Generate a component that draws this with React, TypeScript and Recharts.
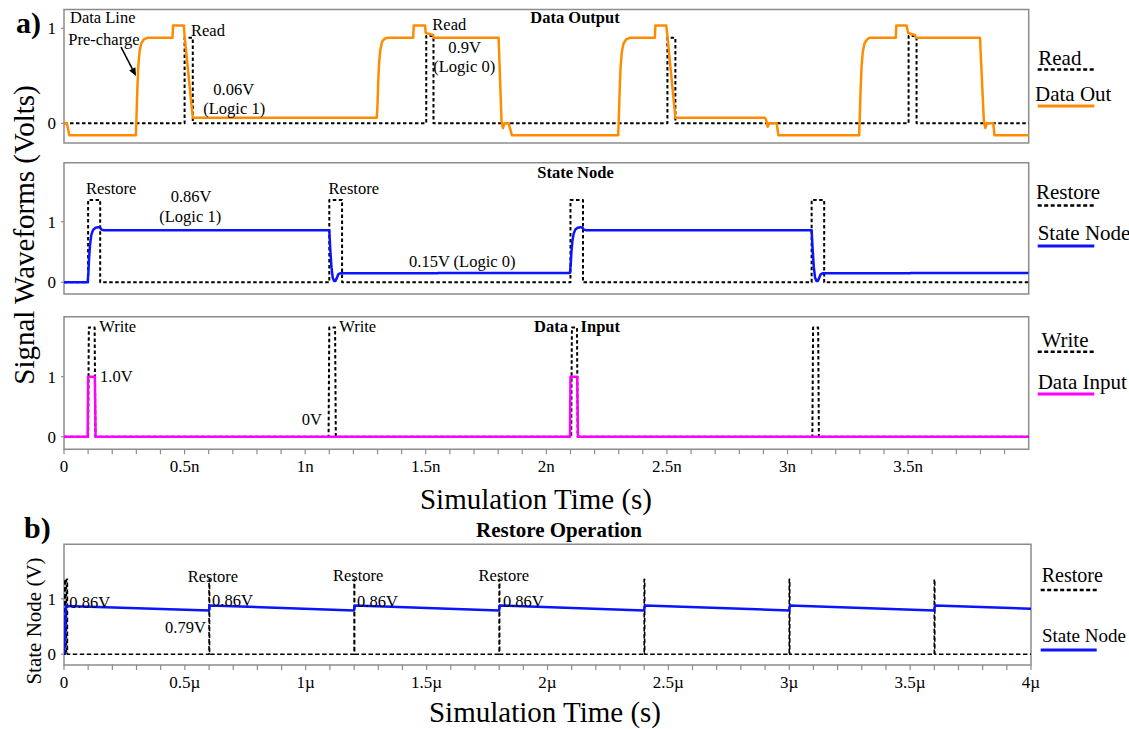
import React from "react";
import { LineChart, Line, XAxis, YAxis, ReferenceArea } from "recharts";

const FONT = "'Liberation Serif', 'Times New Roman', Times, serif";

// ---------- a) Data Output panel (time in ns) ----------
const readT = [0, 0.5, 0.5, 0.534, 0.534, 1.502, 1.502, 1.532, 1.532, 2.502, 2.502, 2.535, 2.535, 3.502, 3.502, 3.535, 3.535, 4.0];
const readV = [0, 0, 0.9, 0.9, 0, 0, 0.92, 0.92, 0, 0, 0.9, 0.9, 0, 0, 0.92, 0.92, 0, 0];

const dataOutT = [
  0, 0.012, 0.022, 0.298, 0.301, 0.304, 0.308, 0.313, 0.32, 0.33, 0.345, 0.45, 0.452, 0.497, 0.5, 0.534,
  1.297, 1.3, 1.303, 1.307, 1.312, 1.319, 1.329, 1.34, 1.448, 1.45, 1.497, 1.5, 1.53, 1.534, 1.802, 1.814, 1.82, 1.826, 1.844, 1.857,
  2.298, 2.301, 2.304, 2.308, 2.313, 2.32, 2.33, 2.345, 2.45, 2.452, 2.497, 2.502, 2.535, 2.906, 2.912, 2.918, 2.924, 2.955, 2.962,
  3.297, 3.3, 3.303, 3.307, 3.312, 3.319, 3.329, 3.34, 3.449, 3.451, 3.494, 3.5, 3.528, 3.532, 3.798, 3.814, 3.82, 3.826, 3.853, 3.858, 4.0,
];
const dataOutV = [
  0, 0, -0.125, -0.125, 0.1, 0.35, 0.6, 0.75, 0.84, 0.88, 0.9, 0.9, 1.03, 1.03, 0.92, 0.06,
  0.06, 0.2, 0.45, 0.65, 0.78, 0.86, 0.89, 0.9, 0.9, 1.03, 1.03, 0.95, 0.93, 0.9, 0.9, 0.03, -0.05, 0, 0, -0.125,
  -0.125, 0.1, 0.35, 0.6, 0.75, 0.84, 0.88, 0.9, 0.9, 1.03, 1.03, 0.92, 0.06, 0.06, 0.03, -0.035, 0, 0, -0.125,
  -0.125, 0.1, 0.35, 0.6, 0.75, 0.84, 0.88, 0.9, 0.9, 1.03, 1.03, 0.95, 0.93, 0.9, 0.9, 0.03, -0.05, 0, 0, -0.125, -0.125,
];

// ---------- State Node panel (ns) ----------
const restoreT = [0, 0.1, 0.1, 0.15, 0.15, 1.1, 1.1, 1.153, 1.153, 2.1, 2.1, 2.152, 2.152, 3.1, 3.1, 3.152, 3.152, 4.0];
const restoreV = [0, 0, 1.36, 1.36, 0, 0, 1.36, 1.36, 0, 0, 1.36, 1.36, 0, 0, 1.36, 1.36, 0, 0];

const stateT = [
  0, 0.098, 0.101, 0.104, 0.108, 0.113, 0.12, 0.13, 0.142, 0.15, 0.155, 0.165,
  1.1, 1.104, 1.109, 1.114, 1.12, 1.125, 1.13, 1.137, 1.147, 1.55, 1.552,
  2.098, 2.101, 2.104, 2.108, 2.113, 2.12, 2.13, 2.142, 2.15, 2.155, 2.165,
  3.1, 3.104, 3.109, 3.114, 3.12, 3.125, 3.13, 3.137, 3.147, 3.51, 3.512, 4.0,
];
const stateV = [
  0, 0, 0.15, 0.4, 0.62, 0.78, 0.86, 0.9, 0.91, 0.9, 0.87, 0.86,
  0.86, 0.55, 0.25, 0.08, 0.02, 0.02, 0.06, 0.13, 0.15, 0.15, 0.155,
  0.155, 0.3, 0.5, 0.68, 0.8, 0.87, 0.9, 0.91, 0.9, 0.87, 0.86,
  0.86, 0.55, 0.25, 0.08, 0.02, 0.02, 0.06, 0.13, 0.15, 0.15, 0.155, 0.155,
];

// ---------- Data Input panel (ns) ----------
const writeT = [0, 0.1, 0.103, 0.127, 0.13, 1.097, 1.1, 1.124, 1.127, 2.103, 2.106, 2.127, 2.13, 3.103, 3.106, 3.127, 3.13, 4.0];
const writeV = [0, 0, 1.82, 1.82, 0, 0, 1.82, 1.82, 0, 0, 1.82, 1.82, 0, 0, 1.82, 1.82, 0, 0];

const dataInT = [0, 0.098, 0.1, 0.128, 0.131, 2.098, 2.1, 2.128, 2.131, 4.0];
const dataInV = [0, 0, 1.0, 1.0, 0, 0, 1.0, 1.0, 0, 0];

// ---------- b) Restore Operation panel (time in µs) ----------
const rOpRestoreT = [0, 0.002, 0.002, 0.006, 0.006, 0.01, 0.01, 0.014, 0.014, 0.6, 0.6, 0.602, 0.602, 1.2, 1.2, 1.202, 1.202, 1.8, 1.8, 1.802, 1.802, 2.4, 2.4, 2.402, 2.402, 3.0, 3.0, 3.002, 3.002, 3.6, 3.6, 3.602, 3.602, 4.0];
const rOpRestoreV = [0, 0, 1.35, 1.35, 0, 0, 1.35, 1.35, 0, 0, 1.35, 1.35, 0, 0, 1.35, 1.35, 0, 0, 1.35, 1.35, 0, 0, 1.35, 1.35, 0, 0, 1.35, 1.35, 0, 0, 1.35, 1.35, 0, 0];

const rOpStateT = [0, 0.008, 0.6, 0.603, 1.2, 1.203, 1.8, 1.803, 2.4, 2.403, 3.0, 3.003, 3.6, 3.603, 4.0];
const rOpStateV = [0, 0.87, 0.79, 0.88, 0.79, 0.88, 0.79, 0.88, 0.79, 0.88, 0.79, 0.88, 0.79, 0.88, 0.82];

// ---------- ticks ----------
const nsTicks = [0, 0.1, 0.2, 0.3, 0.4, 0.5, 0.6, 0.7, 0.8, 0.9, 1, 1.1, 1.2, 1.3, 1.4, 1.5, 1.6, 1.7, 1.8, 1.9, 2, 2.1, 2.2, 2.3, 2.4, 2.5, 2.6, 2.7, 2.8, 2.9, 3, 3.1, 3.2, 3.3, 3.4, 3.5, 3.6, 3.7, 3.8, 3.9];
const nsMajor = [0, 0.5, 1, 1.5, 2, 2.5, 3, 3.5];
const nsLabels = ["0", "0.5n", "1n", "1.5n", "2n", "2.5n", "3n", "3.5n"];

const usTicks = [0, 0.1, 0.2, 0.3, 0.4, 0.5, 0.6, 0.7, 0.8, 0.9, 1, 1.1, 1.2, 1.3, 1.4, 1.5, 1.6, 1.7, 1.8, 1.9, 2, 2.1, 2.2, 2.3, 2.4, 2.5, 2.6, 2.7, 2.8, 2.9, 3, 3.1, 3.2, 3.3, 3.4, 3.5, 3.6, 3.7, 3.8, 3.9, 4];
const usMajor = [0, 0.5, 1, 1.5, 2, 2.5, 3, 3.5, 4];
const usLabels = ["0", "0.5µ", "1µ", "1.5µ", "2µ", "2.5µ", "3µ", "3.5µ", "4µ"];

const yTicks = [0, 1];

const zip = (t: number[], v: number[]) => t.map((x, i) => ({ t: x, v: v[i] }));

const fmt = (major: number[], labels: string[]) => (val: number) => {
  const i = major.findIndex((m) => Math.abs(m - val) < 1e-6);
  return i >= 0 ? labels[i] : "";
};

const ORANGE = "#ff8c00";
const BLUE = "#0a14ff";
const MAGENTA = "#ff00ff";
const FRAME = "#8c8c8c";

type Series = { data: { t: number; v: number }[]; color: string; dash?: string; width: number };

type PanelProps = {
  top: number;
  height: number;
  marginTop: number;
  marginBottom: number;
  marginRight: number;
  yDomain: [number, number];
  xDomain: [number, number];
  showX: boolean;
  xTicks?: number[];
  xFmt?: (v: number) => string;
  series: Series[];
};

function Panel(p: PanelProps) {
  const tickStyle = { fill: "#000", fontSize: 17, fontFamily: FONT };
  return (
    <div style={{ position: "absolute", left: 0, top: p.top }}>
      <LineChart
        width={1129}
        height={p.height}
        margin={{ top: p.marginTop, right: p.marginRight, bottom: p.marginBottom, left: 0 }}
        style={{ fontFamily: FONT }}
      >
        <XAxis
          type="number"
          dataKey="t"
          domain={p.xDomain}
          allowDataOverflow
          hide={!p.showX}
          ticks={p.xTicks}
          tickFormatter={p.xFmt}
          interval={0}
          axisLine={false}
          tickLine={{ stroke: FRAME, strokeWidth: 1.2 }}
          tickSize={5}
          tickMargin={6}
          height={p.showX ? 40 : 0}
          tick={tickStyle}
        />
        <YAxis
          type="number"
          dataKey="v"
          domain={p.yDomain}
          allowDataOverflow
          ticks={yTicks}
          width={64}
          axisLine={false}
          tickLine={{ stroke: FRAME, strokeWidth: 1.2 }}
          tickSize={3}
          tickMargin={5}
          tick={tickStyle}
        />
        <ReferenceArea
          x1={p.xDomain[0]}
          x2={p.xDomain[1]}
          y1={p.yDomain[0]}
          y2={p.yDomain[1]}
          fill="none"
          fillOpacity={0}
          stroke={FRAME}
          strokeWidth={1.5}
          ifOverflow="visible"
        />
        {p.series.map((s, i) => (
          <Line
            key={i}
            data={s.data}
            dataKey="v"
            type="linear"
            stroke={s.color}
            strokeWidth={s.width}
            strokeDasharray={s.dash}
            dot={false}
            activeDot={false}
            isAnimationActive={false}
            strokeLinejoin="round"
          />
        ))}
      </LineChart>
    </div>
  );
}

function T(props: { x: number; y: number; size?: number; bold?: boolean; anchor?: string; children: React.ReactNode }) {
  return (
    <text
      x={props.x}
      y={props.y}
      fontSize={props.size ?? 16.5}
      fontWeight={props.bold ? "bold" : "normal"}
      textAnchor={(props.anchor as any) ?? "start"}
      fill="#000"
      fontFamily={FONT}
    >
      {props.children}
    </text>
  );
}

function LegendItem(props: { x: number; y: number; lineY: number; label: string; color: string; dashed: boolean; size?: number; x1?: number; x2?: number }) {
  return (
    <g>
      <T x={props.x} y={props.y} size={props.size ?? 21}>{props.label}</T>
      <line
        x1={props.x1 ?? 1037.7}
        x2={props.x2 ?? 1094.3}
        y1={props.lineY}
        y2={props.lineY}
        stroke={props.color}
        strokeWidth={props.dashed ? 2.5 : 3}
        strokeDasharray={props.dashed ? "4 2.5" : undefined}
      />
    </g>
  );
}

export default function App() {
  const nsFmt = fmt(nsMajor, nsLabels);
  const usFmt = fmt(usMajor, usLabels);
  return (
    <div style={{ position: "absolute", left: 0, top: 0, width: 1129, height: 729, background: "#fff", fontFamily: FONT, overflow: "hidden" }}>
      <Panel
        top={0}
        height={160}
        marginTop={9.5}
        marginBottom={17}
        marginRight={100.3}
        yDomain={[-0.207, 1.198]}
        xDomain={[0, 4]}
        showX={false}
        series={[
          { data: zip(readT, readV), color: "#000", dash: "3.5 2.5", width: 2 },
          { data: zip(dataOutT, dataOutV), color: ORANGE, width: 2.5 },
        ]}
      />
      <Panel
        top={150}
        height={160}
        marginTop={12.7}
        marginBottom={16}
        marginRight={100.3}
        yDomain={[-0.193, 1.974]}
        xDomain={[0, 4]}
        showX={false}
        series={[
          { data: zip(restoreT, restoreV), color: "#000", dash: "3.5 2.5", width: 2 },
          { data: zip(stateT, stateV), color: BLUE, width: 2.5 },
        ]}
      />
      <Panel
        top={300}
        height={189.3}
        marginTop={16.7}
        marginBottom={0}
        marginRight={100.3}
        yDomain={[-0.21, 2.0]}
        xDomain={[0, 4]}
        showX={true}
        xTicks={nsTicks}
        xFmt={nsFmt}
        series={[
          { data: zip(writeT, writeV), color: "#000", dash: "3.5 2.5", width: 2 },
          { data: zip(dataInT, dataInV), color: MAGENTA, width: 2.5 },
        ]}
      />
      <Panel
        top={530}
        height={175}
        marginTop={14.3}
        marginBottom={0}
        marginRight={98}
        yDomain={[-0.195, 1.983]}
        xDomain={[0, 4]}
        showX={true}
        xTicks={usTicks}
        xFmt={usFmt}
        series={[
          { data: zip(rOpRestoreT, rOpRestoreV), color: "#000", dash: "4.5 2.5", width: 1.6 },
          { data: zip(rOpStateT, rOpStateV), color: BLUE, width: 2.5 },
        ]}
      />

      <svg width={1129} height={729} style={{ position: "absolute", left: 0, top: 0, pointerEvents: "none" }}>
        {/* panel labels */}
        <T x={16} y={33} size={30} bold>a)</T>
        <T x={24} y={538} size={30} bold>b)</T>

        {/* axis titles */}
        <text x={34} y={235} transform="rotate(-90 34 235)" textAnchor="middle" fontSize={29} fontFamily={FONT} fill="#000">
          Signal Waveforms (Volts)
        </text>
        <text x={41} y={621} transform="rotate(-90 41 621)" textAnchor="middle" fontSize={21} fontFamily={FONT} fill="#000">
          State Node (V)
        </text>
        <T x={536} y={509} size={29} anchor="middle">Simulation Time (s)</T>
        <T x={545} y={722} size={29} anchor="middle">Simulation Time (s)</T>

        {/* panel titles */}
        <T x={575} y={22.7} size={16.5} bold anchor="middle">Data Output</T>
        <T x={575.5} y={178} size={16.5} bold anchor="middle">State Node</T>
        <text y={331.7} fontSize={16.5} fontWeight="bold" fontFamily={FONT} fill="#000">
          <tspan x={534}>Data</tspan>
          <tspan x={580.6}>Input</tspan>
        </text>
        <T x={559} y={536.7} size={21} bold anchor="middle">Restore Operation</T>

        {/* panel 1 annotations */}
        <T x={70} y={23.3}>Data Line</T>
        <T x={68.3} y={45}>Pre-charge</T>
        <line x1={121} y1={47} x2={132.3} y2={68.9} stroke="#000" strokeWidth={1.6} />
        <polygon points="136,76 129.2,70.5 135.4,67.3" fill="#000" />
        <T x={191} y={36}>Read</T>
        <T x={213.3} y={95}>0.06V</T>
        <T x={203.3} y={113.5}>(Logic 1)</T>
        <T x={432.3} y={30}>Read</T>
        <T x={448.3} y={52.5}>0.9V</T>
        <T x={433.3} y={72}>(Logic 0)</T>

        {/* panel 2 annotations */}
        <T x={86} y={194.3}>Restore</T>
        <T x={170.7} y={202}>0.86V</T>
        <T x={159.3} y={222}>(Logic 1)</T>
        <T x={328.6} y={194.3}>Restore</T>
        <T x={409} y={266.7}>0.15V (Logic 0)</T>

        {/* panel 3 annotations */}
        <T x={99.3} y={331.7}>Write</T>
        <T x={100} y={381.7}>1.0V</T>
        <T x={339.3} y={331.7}>Write</T>
        <T x={301.8} y={425}>0V</T>

        {/* panel 4 annotations */}
        <T x={69.3} y={608.3}>0.86V</T>
        <T x={165} y={633.3}>0.79V</T>
        <T x={187.7} y={581.7}>Restore</T>
        <T x={212} y={606}>0.86V</T>
        <T x={332.9} y={580.5}>Restore</T>
        <T x={357} y={606.5}>0.86V</T>
        <T x={478.6} y={580.5}>Restore</T>
        <T x={502.9} y={606.5}>0.86V</T>

        {/* legends */}
        <LegendItem x={1038.3} y={65} lineY={69.5} label="Read" color="#000" dashed />
        <LegendItem x={1035} y={101} lineY={106} label="Data Out" color={ORANGE} dashed={false} />
        <LegendItem x={1036} y={198.5} lineY={205.5} label="Restore" color="#000" dashed />
        <LegendItem x={1037.7} y={240} lineY={246} label="State Node" color={BLUE} dashed={false} />
        <LegendItem x={1041.5} y={346.7} lineY={351.7} label="Write" color="#000" dashed />
        <LegendItem x={1037.7} y={389} lineY={394} label="Data Input" color={MAGENTA} dashed={false} />
        <LegendItem x={1041.7} y={581.7} lineY={590} label="Restore" color="#000" dashed size={20} x1={1040.7} x2={1096.7} />
        <LegendItem x={1042} y={642.3} lineY={650} label="State Node" color={BLUE} dashed={false} size={19} x1={1040.7} x2={1096.7} />
      </svg>
    </div>
  );
}
